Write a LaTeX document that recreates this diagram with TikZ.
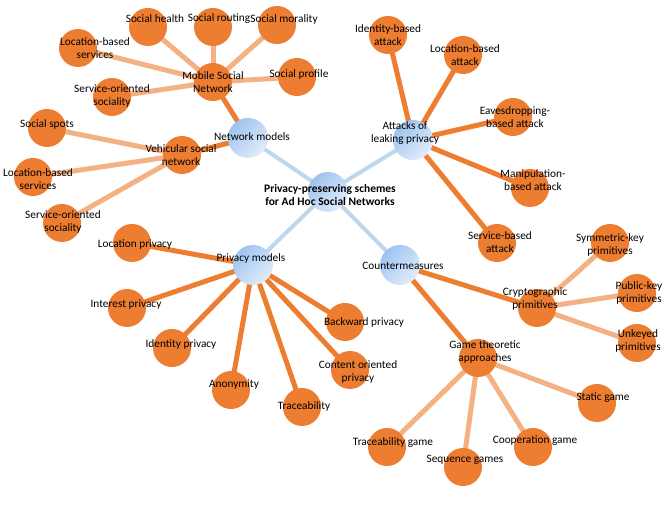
\documentclass[tikz,border=0pt]{standalone}
\usepackage{fontspec}
\setmainfont{Carlito}
\usetikzlibrary{backgrounds}
\definecolor{org}{HTML}{ED7D31}
\definecolor{lorg}{HTML}{F4B183}
\definecolor{bline}{HTML}{BDD7EE}
\definecolor{bA}{HTML}{9DC3F0}
\definecolor{bB}{HTML}{E2ECFA}
\tikzset{
  leaf/.style={circle,fill=org,minimum size=38pt,inner sep=0pt},
  hub/.style={circle,minimum size=40pt,inner sep=0pt,top color=bA,bottom color=bB,shading angle=45},
  txt/.style={align=center,inner sep=0pt,font=\fontsize{11.3}{13.5}\selectfont},
  ctxt/.style={align=center,inner sep=0pt,font=\fontsize{11.5}{13.5}\selectfont\bfseries},
  bl/.style={draw=bline,line width=4pt},
  ol/.style={draw=org,line width=5pt},
  ll/.style={draw=lorg,line width=5pt}
}
\begin{document}
\begin{tikzpicture}[x=1pt,y=-1pt]
\useasboundingbox (0,0) rectangle (665,510);
% hubs
\node[hub] (ctr) at (328,192) {};
\node[hub] (nm) at (248,138) {};
\node[hub] (atk) at (413,140) {};
\node[hub] (pm) at (253,265) {};
\node[hub] (cm) at (400,265) {};
% secondary orange hubs
\node[leaf] (msn) at (213,82) {};
\node[leaf] (vsn) at (182,155) {};
\node[leaf] (cry) at (537,308) {};
\node[leaf] (gta) at (478,358) {};
% mobile leaves
\node[leaf] (shl) at (148,27) {};
\node[leaf] (srt) at (213,27) {};
\node[leaf] (smo) at (277,25) {};
\node[leaf] (mlb) at (78,48) {};
\node[leaf] (spr) at (297,77) {};
\node[leaf] (mso) at (112,97) {};
% vehicular leaves
\node[leaf] (ssp) at (47,128) {};
\node[leaf] (vlb) at (33,177) {};
\node[leaf] (vso) at (62,223) {};
% attacks
\node[leaf] (iba) at (388,35) {};
\node[leaf] (lba) at (463,55) {};
\node[leaf] (eba) at (513,117) {};
\node[leaf] (mba) at (530,188) {};
\node[leaf] (sba) at (497,243) {};
% privacy models
\node[leaf] (lpr) at (132,243) {};
\node[leaf] (ipr) at (127,308) {};
\node[leaf] (idp) at (172,348) {};
\node[leaf] (ano) at (231,390) {};
\node[leaf] (tra) at (302,407) {};
\node[leaf] (bpr) at (345,322) {};
\node[leaf] (cop) at (350,370) {};
% cryptographic
\node[leaf] (skp) at (610,243) {};
\node[leaf] (pkp) at (637,293) {};
\node[leaf] (ukp) at (637,343) {};
% game
\node[leaf] (stg) at (597,403) {};
\node[leaf] (cog) at (533,447) {};
\node[leaf] (seg) at (463,467) {};
\node[leaf] (trg) at (387,447) {};
\begin{scope}[on background layer]
\foreach \a in {nm,atk,pm,cm} \draw[bl] (ctr.center) -- (\a.center);
\foreach \a in {msn,vsn} \draw[ol] (nm.center) -- (\a.center);
\foreach \a in {iba,lba,eba,mba,sba} \draw[ol] (atk.center) -- (\a.center);
\foreach \a in {lpr,ipr,idp,ano,tra,bpr,cop} \draw[ol] (pm.center) -- (\a.center);
\foreach \a in {cry,gta} \draw[ol] (cm.center) -- (\a.center);
\foreach \a in {shl,srt,smo,mlb,spr,mso} \draw[ll] (msn.center) -- (\a.center);
\foreach \a in {ssp,vlb,vso} \draw[ll] (vsn.center) -- (\a.center);
\foreach \a in {skp,pkp,ukp} \draw[ll] (cry.center) -- (\a.center);
\foreach \a in {stg,cog,seg,trg} \draw[ll] (gta.center) -- (\a.center);
\end{scope}
% texts
\node[ctxt] (t-ctr) at (330,195) {Privacy-preserving schemes\\for Ad Hoc Social Networks};
\node[txt] (t-nm) at (252,137) {Network models};
\node[txt] (t-atk) at (405,133) {Attacks of\\leaking privacy};
\node[txt] (t-pm) at (251,258) {Privacy models};
\node[txt] (t-cm) at (403,266) {Countermeasures};
\node[txt] (t-msn) at (213,82) {Mobile Social\\Network};
\node[txt] (t-vsn) at (181,155) {Vehicular social\\network};
\node[txt] (t-cry) at (535,299) {Cryptographic\\primitives};
\node[txt] (t-gta) at (485,352) {Game theoretic\\approaches};
\node[txt] (t-shl) at (155,19) {Social health};
\node[txt] (t-srt) at (219,19) {Social routing};
\node[txt] (t-smo) at (284,19) {Social morality};
\node[txt] (t-mlb) at (95,48) {Location-based\\services};
\node[txt] (t-spr) at (299,74) {Social profile};
\node[txt] (t-mso) at (112,96) {Service-oriented\\sociality};
\node[txt] (t-ssp) at (47,124) {Social spots};
\node[txt] (t-vlb) at (38,179) {Location-based\\services};
\node[txt] (t-vso) at (63,222) {Service-oriented\\sociality};
\node[txt] (t-iba) at (388,35) {Identity-based\\attack};
\node[txt] (t-lba) at (465,55) {Location-based\\attack};
\node[txt] (t-eba) at (515,117) {Eavesdropping-\\based attack};
\node[txt] (t-mba) at (533,180) {Manipulation-\\based attack};
\node[txt] (t-sba) at (500,242) {Service-based\\attack};
\node[txt] (t-lpr) at (135,245) {Location privacy};
\node[txt] (t-ipr) at (126,305) {Interest privacy};
\node[txt] (t-idp) at (181,344) {Identity privacy};
\node[txt] (t-ano) at (234,385) {Anonymity};
\node[txt] (t-tra) at (304,406) {Traceability};
\node[txt] (t-bpr) at (364,322) {Backward privacy};
\node[txt] (t-cop) at (358,372) {Content oriented\\privacy};
\node[txt] (t-skp) at (610,245) {Symmetric-key\\primitives};
\node[txt] (t-pkp) at (639,293) {Public-key\\primitives};
\node[txt] (t-ukp) at (638,341) {Unkeyed\\primitives};
\node[txt] (t-stg) at (603,398) {Static game};
\node[txt] (t-cog) at (535,441) {Cooperation game};
\node[txt] (t-seg) at (465,460) {Sequence games};
\node[txt] (t-trg) at (393,443) {Traceability game};
\end{tikzpicture}
\end{document}
